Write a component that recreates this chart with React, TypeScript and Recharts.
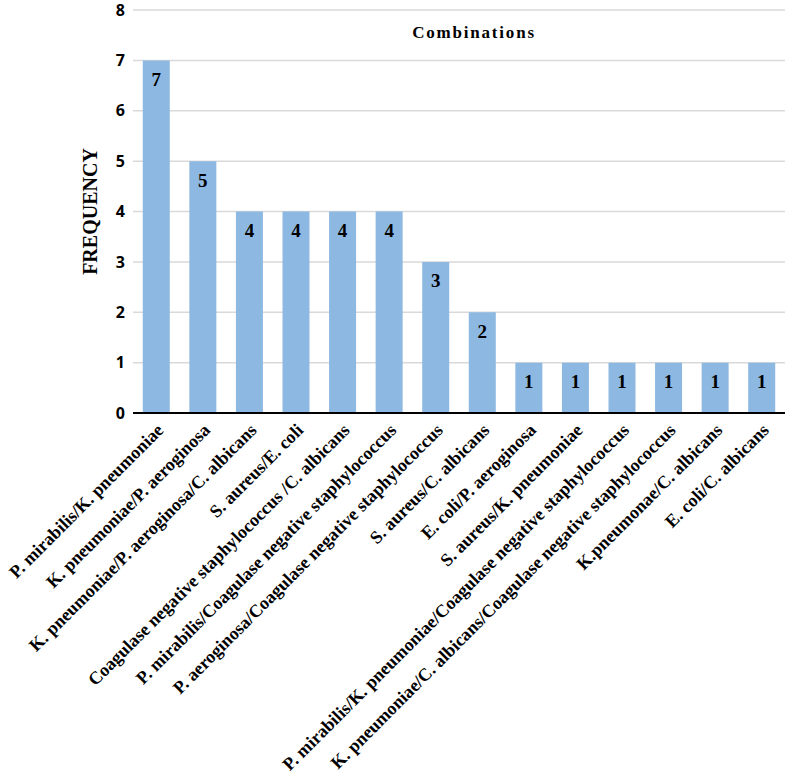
import { BarChart, Bar, XAxis, YAxis, CartesianGrid, LabelList } from "recharts";

const combinations = [
  "P. mirabilis/K. pneumoniae",
  "K. pneumoniae/P. aeroginosa",
  "K. pneumoniae/P. aeroginosa/C. albicans",
  "S. aureus/E. coli",
  "Coagulase negative staphylococcus /C. albicans",
  "P. mirabilis/Coagulase negative staphylococcus",
  "P. aeroginosa/Coagulase negative staphylococcus",
  "S. aureus/C. albicans",
  "E. coli/P. aeroginosa",
  "S. aureus/K. pneumoniae",
  "P. mirabilis/K. pneumoniae/Coagulase negative staphylococcus",
  "K. pneumoniae/C. albicans/Coagulase negative staphylococcus",
  "K.pneumonae/C. albicans",
  "E. coli/C. albicans",
];

const frequency = [7, 5, 4, 4, 4, 4, 3, 2, 1, 1, 1, 1, 1, 1];

const yTicks = [0, 1, 2, 3, 4, 5, 6, 7, 8];

const data = combinations.map((name, i) => ({ name, value: frequency[i] }));

const serif = "'Liberation Serif', 'Times New Roman', serif";

const XTick = ({ x, y, payload }: any) => (
  <g transform={`translate(${x + 4},${y + 6})`}>
    <text
      transform="rotate(-45)"
      textAnchor="end"
      dy={6}
      fontFamily={serif}
      fontWeight="bold"
      fontSize={18}
      fill="#000"
    >
      {payload.value}
    </text>
  </g>
);

const App = () => {
  return (
    <div style={{ position: "absolute", left: 0, top: 0, width: 797, height: 779, background: "#fff" }}>
      <BarChart
        width={797}
        height={779}
        data={data}
        margin={{ top: 10, right: 12, left: 0, bottom: 0 }}
        barCategoryGap="21%"
      >
        <CartesianGrid stroke="#d9d9d9" strokeWidth={1.5} vertical={false} />
        <XAxis
          dataKey="name"
          interval={0}
          tick={<XTick />}
          tickLine={false}
          axisLine={{ stroke: "#000", strokeWidth: 2 }}
          height={366}
        />
        <YAxis
          domain={[0, 8]}
          ticks={yTicks}
          width={133}
          tickLine={false}
          axisLine={false}
          tick={{ fill: "#000", fontSize: 16, fontWeight: "bold", fontFamily: "'Open Sans', sans-serif" }}
          label={{
            value: "FREQUENCY",
            angle: -90,
            position: "insideLeft",
            offset: 90,
            style: { fontFamily: serif, fontWeight: "bold", fontSize: 20, fill: "#000", textAnchor: "middle" },
          }}
        />
        <Bar dataKey="value" fill="#8db8e2" isAnimationActive={false}>
          <LabelList
            dataKey="value"
            position="insideTop"
            offset={12}
            style={{ fontFamily: serif, fontWeight: "bold", fontSize: 19, fill: "#000" }}
          />
        </Bar>
      </BarChart>
      <div
        style={{
          position: "absolute",
          left: 404,
          top: 23,
          width: 140,
          textAlign: "center",
          fontFamily: serif,
          fontWeight: "bold",
          fontSize: 17,
          letterSpacing: 1.8,
        }}
      >
        Combinations
      </div>
    </div>
  );
};

export default App;
